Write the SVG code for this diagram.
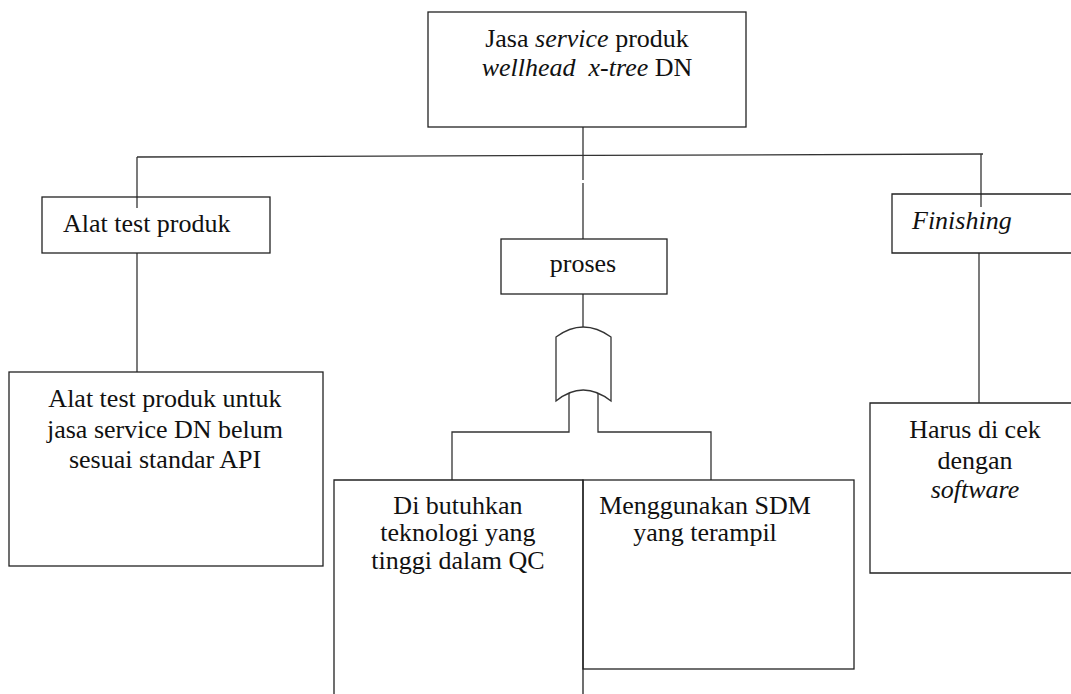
<svg xmlns="http://www.w3.org/2000/svg" width="1071" height="694" viewBox="0 0 1071 694">
<style>
.box{fill:none;stroke:#222;stroke-width:1.3}
.ln{fill:none;stroke:#333;stroke-width:1.3}
text{font-family:"Liberation Serif","Times New Roman",serif;font-size:26px;fill:#111}
.c{text-anchor:middle}
.i{font-style:italic}
</style>
<rect width="1071" height="694" fill="#fff"/>
<g id="connectors">
<path class="ln" d="M583,127 V180 M583,183 V239"/>
<path class="ln" d="M137,157 L983,154"/>
<path class="ln" d="M137,157 V208"/>
<path class="ln" d="M981,154 V207"/>
<path class="ln" d="M137,253 V372"/>
<path class="ln" d="M979,253 V403"/>
<path class="ln" d="M583,294 V327"/>
<path class="ln" d="M556,401 V337 Q583,317 611,337 V401 Q583,379 556,401 Z"/>
<path class="ln" d="M569,393 V432 H452 V480 M598,393 V432 H711 V480"/>
</g>
<g id="n-top">
<rect class="box" x="428" y="12" width="318" height="115"/>
<text class="c" x="587" y="47">Jasa <tspan class="i">service</tspan> produk</text>
<text class="c" x="587" y="76"><tspan class="i">wellhead&#160; x-tree</tspan> DN</text>
</g>
<g id="n-alat">
<rect class="box" x="42" y="197" width="228" height="56"/>
<text x="63" y="232">Alat test produk</text>
</g>
<g id="n-proses">
<rect class="box" x="501" y="239" width="166" height="55"/>
<text class="c" x="583" y="272">proses</text>
</g>
<g id="n-finishing">
<path class="box" d="M1071,194 H892 V253 H1071"/>
<text class="i" x="912" y="229">Finishing</text>
</g>
<g id="n-alat-detail">
<rect class="box" x="9" y="372" width="314" height="194"/>
<text class="c" x="165" y="407">Alat test produk untuk</text>
<text class="c" x="165" y="438">jasa service DN belum</text>
<text class="c" x="165" y="468">sesuai standar API</text>
</g>
<g id="n-teknologi">
<path class="box" d="M334,694 V480 H583 V694"/>
<text class="c" x="458" y="514">Di butuhkan</text>
<text class="c" x="458" y="541">teknologi yang</text>
<text class="c" x="458" y="569">tinggi dalam QC</text>
</g>
<g id="n-sdm">
<rect class="box" x="583" y="480" width="271" height="189"/>
<text class="c" x="705" y="514">Menggunakan SDM</text>
<text class="c" x="705" y="541">yang terampil</text>
</g>
<g id="n-software">
<path class="box" d="M1071,403 H870 V573 H1071"/>
<text class="c" x="975" y="438">Harus di cek</text>
<text class="c" x="975" y="469">dengan</text>
<text class="c i" x="975" y="498">software</text>
</g>
</svg>
